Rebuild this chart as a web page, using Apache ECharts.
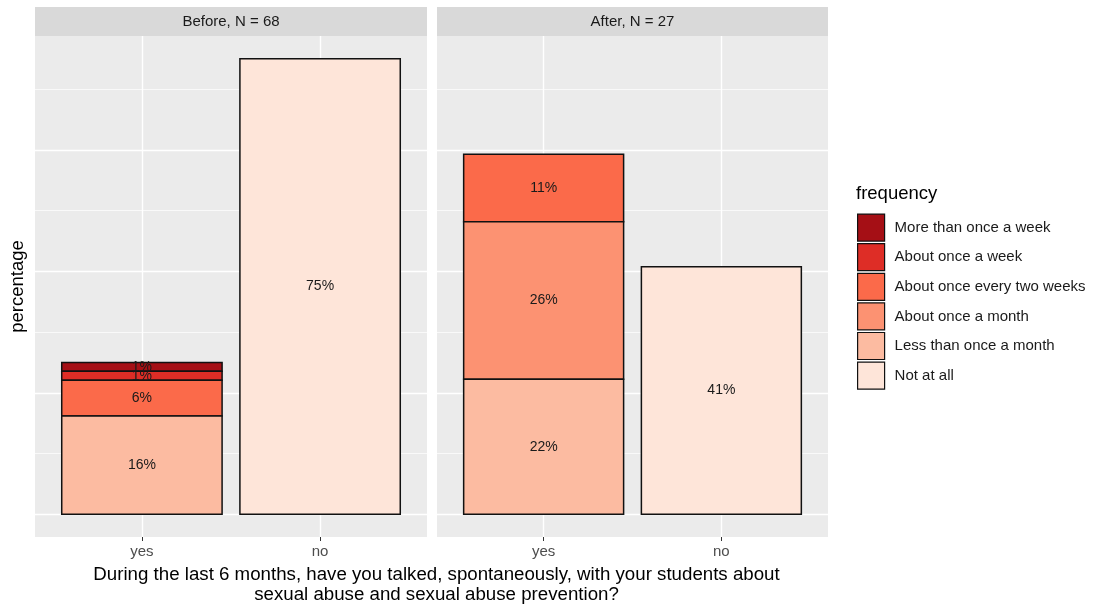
<!DOCTYPE html>
<html>
<head>
<meta charset="utf-8">
<script src="https://cdn.jsdelivr.net/npm/echarts@6/dist/echarts.min.js"></script>
<style>html,body{margin:0;padding:0;background:#fff;}#chart{width:1093px;height:608px;}</style>
</head>
<body>
<div id="chart"></div>
<script>
// ---- data ----
const categories = ['yes', 'no'];
const panels = ['Before, N = 68', 'After, N = 27'];
const levels = ['More than once a week', 'About once a week', 'About once every two weeks', 'About once a month', 'Less than once a month', 'Not at all'];
const levelColors = ['#A50F15', '#DE2D26', '#FB6A4A', '#FC9272', '#FCBBA1', '#FEE5D9'];
// percentages per level, for [yes, no]
const beforeValues = [
  [1.47, 0],   // More than once a week
  [1.47, 0],   // About once a week
  [5.88, 0],   // About once every two weeks
  [0, 0],      // About once a month
  [16.18, 0],  // Less than once a month
  [0, 75.0]    // Not at all
];
const afterValues = [
  [0, 0],
  [0, 0],
  [11.11, 0],
  [25.93, 0],
  [22.22, 0],
  [0, 40.74]
];
const yMajorTicks = [0, 20, 40, 60];
const yMinorTicks = [10, 30, 50, 70];
const xTitle = 'During the last 6 months, have you talked, spontaneously, with your students about\nsexual abuse and sexual abuse prevention?';

const FONT = '"Liberation Sans", Arial, Helvetica, sans-serif';

// ---- build stacked segments (first level on top, like ggplot) ----
function buildSeries(values, gridIdx) {
  const out = [];
  const cum = categories.map(() => 0);
  const segs = levels.map(() => []);
  for (let li = levels.length - 1; li >= 0; li--) {
    categories.forEach((c, ci) => {
      const v = values[li][ci];
      if (v > 0) {
        segs[li].push([ci + 1, cum[ci], cum[ci] + v, v]);
        cum[ci] += v;
      }
    });
  }
  levels.forEach((name, li) => {
    out.push({
      type: 'custom',
      name: name,
      xAxisIndex: gridIdx,
      yAxisIndex: gridIdx * 2,
      itemStyle: { color: levelColors[li] },
      encode: { x: 0, y: [1, 2] },
      data: segs[li],
      z: 3,
      renderItem: function (params, api) {
        const x = api.value(0), b = api.value(1), t = api.value(2), v = api.value(3);
        const p0 = api.coord([x - 0.45, t]);
        const p1 = api.coord([x + 0.45, b]);
        return {
          type: 'rect',
          shape: { x: p0[0], y: p0[1], width: p1[0] - p0[0], height: p1[1] - p0[1] },
          style: { fill: levelColors[li], stroke: '#111', lineWidth: 1.5 },
          textContent: {
            style: { text: Math.round(v) + '%', fill: '#1a1a1a', fontSize: 14, fontFamily: FONT }
          },
          textConfig: { position: 'inside' }
        };
      }
    });
  });
  return out;
}

const gridDefs = [
  { left: 35, top: 36, width: 392, height: 501 },
  { left: 437, top: 36, width: 391, height: 501 }
];

const grids = gridDefs.map(g => Object.assign({ show: true, backgroundColor: '#EBEBEB', borderWidth: 0, outerBoundsMode: 'none', containLabel: false }, g));

const xAxes = gridDefs.map((g, i) => ({
  type: 'value', gridIndex: i, min: 0.4, max: 2.6, position: 'bottom',
  axisLine: { show: false, onZero: false },
  axisTick: { show: true, customValues: [1, 2], length: 4, lineStyle: { color: '#333', width: 1 } },
  axisLabel: { customValues: [1, 2], formatter: v => categories[Math.round(v) - 1], color: '#4D4D4D', fontSize: 15, fontFamily: FONT, margin: 7 },
  splitLine: { show: true, lineStyle: { color: '#FFFFFF', width: 1.4 } }
}));

const yAxes = [];
gridDefs.forEach((g, i) => {
  yAxes.push({
    type: 'value', gridIndex: i, min: -3.75, max: 78.75,
    name: i === 0 ? 'percentage' : '', nameLocation: 'middle', nameGap: 8,
    nameTextStyle: { color: '#000', fontSize: 18.5, fontFamily: FONT },
    axisLine: { show: false, onZero: false },
    axisTick: { show: false, customValues: yMajorTicks },
    axisLabel: { show: false, customValues: yMajorTicks },
    splitLine: { show: true, lineStyle: { color: '#FFFFFF', width: 1.4 } }
  });
  yAxes.push({
    type: 'value', gridIndex: i, min: -3.75, max: 78.75, position: 'right',
    axisLine: { show: false, onZero: false },
    axisTick: { show: false, customValues: yMinorTicks },
    axisLabel: { show: false, customValues: yMinorTicks },
    splitLine: { show: true, lineStyle: { color: '#FFFFFF', width: 0.7 } }
  });
});

const graphics = [];
gridDefs.forEach((g, i) => {
  graphics.push({ type: 'rect', left: g.left, top: 7, shape: { width: g.width, height: 29 }, style: { fill: '#D9D9D9' }, z: 0 });
  graphics.push({ type: 'text', x: g.left + g.width / 2, y: 21.5, style: { text: panels[i], fill: '#1a1a1a', fontSize: 15, fontFamily: FONT, align: 'center', verticalAlign: 'middle' }, z: 1 });
});
graphics.push({ type: 'text', x: 856, y: 194, style: { text: 'frequency', fill: '#000', fontSize: 18.5, fontFamily: FONT, align: 'left', verticalAlign: 'middle' } });

const option = {
  backgroundColor: '#FFFFFF',
  animation: false,
  title: {
    text: xTitle, left: 431.5, top: 560, textAlign: 'center',
    textStyle: { color: '#000', fontSize: 18.7, fontWeight: 'normal', fontFamily: FONT, lineHeight: 20 }
  },
  legend: {
    orient: 'vertical', left: 857, top: 213.5, padding: 0,
    data: levels, icon: 'rect', itemWidth: 27, itemHeight: 27, itemGap: 1.4,
    itemStyle: { borderColor: '#111', borderWidth: 1.2 },
    textStyle: { color: '#1a1a1a', fontSize: 15, fontFamily: FONT, padding: [0, 0, 0, 5] }
  },
  grid: grids,
  xAxis: xAxes,
  yAxis: yAxes,
  graphic: graphics,
  series: buildSeries(beforeValues, 0).concat(buildSeries(afterValues, 1))
};

const chart = echarts.init(document.getElementById('chart'), null, { renderer: 'canvas' });
chart.setOption(option);
</script>
</body>
</html>
